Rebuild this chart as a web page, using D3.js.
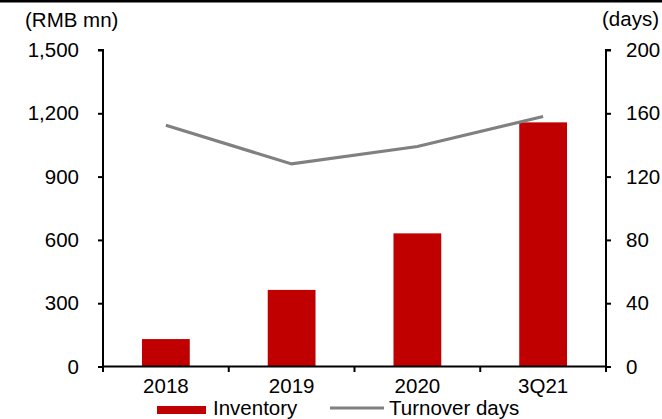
<!DOCTYPE html>
<html><head><meta charset="utf-8">
<script src="https://cdn.jsdelivr.net/npm/d3@7"></script>
<style>
html,body{margin:0;padding:0;background:#fff;}
svg{display:block;font-family:Arial,"Liberation Sans",sans-serif;}
</style></head>
<body>
<svg id="c" width="662" height="419"></svg>
<script>
const categories = ["2018", "2019", "2020", "3Q21"];
const inventory = [130, 363, 631, 1157];
const turnoverDays = [152.5, 128, 139, 158];
const leftTicks = [0, 300, 600, 900, 1200, 1500];
const rightTicks = [0, 40, 80, 120, 160, 200];

const svg = d3.select("#c");
const fs = "20.5px";
const L = 103, R = 606, T = 50, B = 366.5;

svg.append("rect").attr("x", 0).attr("y", 0).attr("width", 662).attr("height", 2.5).attr("fill", "#000");

const x = d3.scaleBand().domain(categories).range([L, R]).paddingInner(0.62).paddingOuter(0.31);
const xb = d3.scaleBand().domain(categories).range([L, R]).padding(0);
const yL = d3.scaleLinear().domain([0, 1500]).range([B, T]);
const yR = d3.scaleLinear().domain([0, 200]).range([B, T]);

// bars
svg.selectAll("rect.bar").data(inventory).enter().append("rect")
  .attr("class", "bar")
  .attr("x", (d, i) => x(categories[i]))
  .attr("width", x.bandwidth())
  .attr("y", d => yL(d))
  .attr("height", d => B - yL(d))
  .attr("fill", "#C00000");

// line
const line = d3.line()
  .x((d, i) => xb(categories[i]) + xb.bandwidth() / 2)
  .y(d => yR(d));
svg.append("path").datum(turnoverDays).attr("d", line)
  .attr("fill", "none").attr("stroke", "#808080").attr("stroke-width", 3.2);

// left axis
const gL = svg.append("g").attr("transform", `translate(${L},0)`)
  .call(d3.axisLeft(yL).tickValues(leftTicks).tickFormat(d3.format(",")).tickSize(5).tickPadding(19));
// right axis
const gR = svg.append("g").attr("transform", `translate(${R},0)`)
  .call(d3.axisRight(yR).tickValues(rightTicks).tickSize(5).tickPadding(15));
// bottom axis with boundary ticks
const gB = svg.append("g").attr("transform", `translate(0,${B})`)
  .call(d3.axisBottom(x).tickSize(0).tickPadding(12));
gB.selectAll(".tick text").attr("dy", "0.71em");
const bounds = categories.map(c => xb(c)).concat([R]);
gB.selectAll("line.bt").data(bounds).enter().append("line")
  .attr("class", "bt").attr("x1", d => d).attr("x2", d => d).attr("y1", 0).attr("y2", 5.5)
  .attr("stroke", "#000").attr("stroke-width", 2);

[gL, gR, gB].forEach(g => {
  g.select(".domain").attr("stroke", "#000").attr("stroke-width", 2);
  g.selectAll(".tick line").attr("stroke", "#000").attr("stroke-width", 2);
  g.selectAll("text").attr("font-size", fs).attr("fill", "#000").attr("font-family", "Arial, 'Liberation Sans', sans-serif");
});
gL.select(".domain").attr("d", `M-5,${T}H0V${B + 5.5}`);
gR.select(".domain").attr("d", `M5,${T}H0V${B + 5.5}`);
gB.select(".domain").attr("d", `M${L},0H${R}`);

// axis titles
svg.append("text").attr("x", 25).attr("y", 27).attr("font-size", fs).text("(RMB mn)");
svg.append("text").attr("x", 602).attr("y", 26).attr("font-size", fs).text("(days)");

// legend
svg.append("rect").attr("x", 157).attr("y", 406).attr("width", 49).attr("height", 8).attr("fill", "#C00000");
svg.append("text").attr("x", 213).attr("y", 414.5).attr("font-size", fs).text("Inventory");
svg.append("line").attr("x1", 330).attr("x2", 384).attr("y1", 408).attr("y2", 408)
  .attr("stroke", "#808080").attr("stroke-width", 3.2);
svg.append("text").attr("x", 389).attr("y", 414.5).attr("font-size", fs).text("Turnover days");
</script>
</body></html>
